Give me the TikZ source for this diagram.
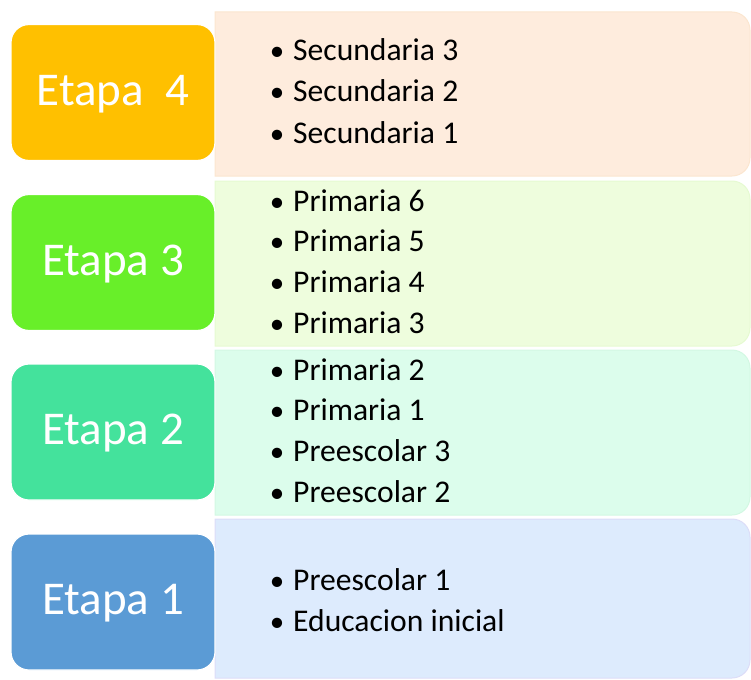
\documentclass[tikz,border=0pt]{standalone}
\usepackage{fontspec}
\setmainfont{Carlito}

\definecolor{gold}{HTML}{FFC000}
\definecolor{lime}{HTML}{68EF29}
\definecolor{mint}{HTML}{44E29C}
\definecolor{steel}{HTML}{5B9BD5}
\definecolor{peach}{HTML}{FEECDD}
\definecolor{peachline}{HTML}{FBE6D0}
\definecolor{palelime}{HTML}{EEFDDD}
\definecolor{palelimeline}{HTML}{E6FAD2}
\definecolor{palemint}{HTML}{DCFDEC}
\definecolor{palemintline}{HTML}{D3F8E3}
\definecolor{palesky}{HTML}{DDEBFD}
\definecolor{paleskyline}{HTML}{DCDDF8}

\begin{document}
\begin{tikzpicture}[
		x=1pt, y=-1pt,
		stage/.style={draw=white, line width=1.2pt, rounded corners=18pt,
			minimum width=204pt, minimum height=136pt, inner sep=0pt,
			text=white, font=\fontsize{47}{50}\selectfont, text depth=5pt},
		panel/.style={line width=1pt},
		item/.style={anchor=base west, inner sep=0pt, font=\fontsize{31.6}{36}\selectfont},
		dot/.style={anchor=base, inner sep=0pt, font=\fontsize{29}{36}\selectfont}
		]
		
		\useasboundingbox (0,0) rectangle (751,679);
		
		% panels, rounded on the right only
		\filldraw[panel, fill=peach, draw=peachline]
		(215,12) [rounded corners=18pt] -- (750,12) -- (750,176) [sharp corners] -- (215,176) -- cycle;
		\filldraw[panel, fill=palelime, draw=palelimeline]
		(215,181) [rounded corners=18pt] -- (750,181) -- (750,346) [sharp corners] -- (215,346) -- cycle;
		\filldraw[panel, fill=palemint, draw=palemintline]
		(215,350) [rounded corners=18pt] -- (750,350) -- (750,515) [sharp corners] -- (215,515) -- cycle;
		\filldraw[panel, fill=palesky, draw=paleskyline]
		(215,519) [rounded corners=18pt] -- (750,519) -- (750,678) [sharp corners] -- (215,678) -- cycle;
		
		% stages
		\node[stage, fill=gold] (stage4) at (113,92.5) {Etapa\ \ 4};
		\node[stage, fill=lime] (stage3) at (113,262.5) {Etapa 3};
		\node[stage, fill=mint] (stage2) at (113,432) {Etapa 2};
		\node[stage, fill=steel] (stage1) at (113,602) {Etapa 1};
		
		% items
		\foreach \txt [count=\i] in {Secundaria 3, Secundaria 2, Secundaria 1} {
			\node[dot] (b4-\i) at (277,20+41*\i) {\textbullet};
			\node[item] (t4-\i) at (293,20+41*\i) {\txt};
		}
		\foreach \txt [count=\i] in {Primaria 6, Primaria 5, Primaria 4, Primaria 3} {
			\node[dot] (b3-\i) at (277,170.5+40.7*\i) {\textbullet};
			\node[item] (t3-\i) at (293,170.5+40.7*\i) {\txt};
		}
		\foreach \txt [count=\i] in {Primaria 2, Primaria 1, Preescolar 3, Preescolar 2} {
			\node[dot] (b2-\i) at (277,339.5+40.7*\i) {\textbullet};
			\node[item] (t2-\i) at (293,339.5+40.7*\i) {\txt};
		}
		\foreach \txt [count=\i] in {Preescolar 1, Educacion inicial} {
			\node[dot] (b1-\i) at (277,549+41*\i) {\textbullet};
			\node[item] (t1-\i) at (293,549+41*\i) {\txt};
		}
		
	\end{tikzpicture}
\end{document}
